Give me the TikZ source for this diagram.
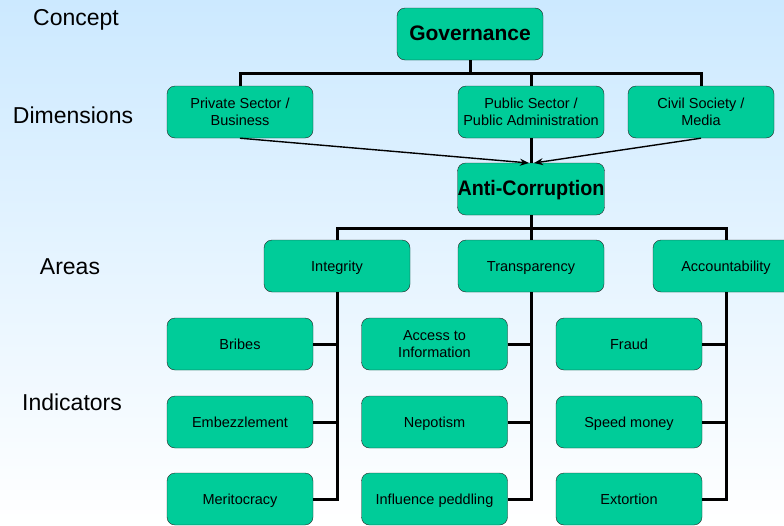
\documentclass[tikz,border=0pt]{standalone}
\usepackage{fontspec}
\setmainfont{Liberation Sans}
\usetikzlibrary{arrows.meta}
\definecolor{boxgreen}{RGB}{0,204,153}
\definecolor{bgblue}{RGB}{204,233,255}
\tikzset{
	box/.style={draw=black!85, fill=boxgreen, rounded corners=8pt, minimum width=146pt, minimum height=52pt, inner sep=0pt, align=center, font=\fontsize{14.5}{17}\selectfont},
	onebox/.style={box, text height=13pt, text depth=3pt},
	bigbox/.style={box, text height=16pt, text depth=3pt, font=\fontsize{21}{24}\selectfont\bfseries},
	levellabel/.style={font=\fontsize{23}{26}\selectfont},
	bus/.style={line width=3pt},
	link/.style={line width=1.4pt, -{Stealth[length=9pt,width=7pt]}}
}
\begin{document}
\begin{tikzpicture}[x=1pt,y=-1pt]
			\shade[top color=bgblue, bottom color=white] (0,0) rectangle (784,525);
			\useasboundingbox (0,0) rectangle (784,525);
			\clip (0,0) rectangle (784,525);

			\node[levellabel] (concept) at (76,20) {Concept};
			\node[levellabel] (dims) at (73,115) {Dimensions};
			\node[levellabel] (areas) at (70,267) {Areas};
			\node[levellabel] (indic) at (72,402) {Indicators};

			\node[bigbox] (gov) at (470,34) {Governance};
			\node[box] (priv) at (240,112) {Private Sector /\\Business};
			\node[box] (pub) at (531,112) {Public Sector /\\Public Administration};
			\node[box] (civ) at (701,112) {Civil Society /\\Media};
			\node[bigbox] (anti) at (531,189) {\scalebox{0.94}[1]{Anti-Corruption}};

			\node[onebox] (integ) at (337,266) {Integrity};
			\node[onebox] (transp) at (531,266) {Transparency};
			\node[onebox] (account) at (726,266) {Accountability};

			\node[onebox] (bribes) at (240,344) {Bribes};
			\node[onebox] (embez) at (240,422) {Embezzlement};
			\node[onebox] (merit) at (240,499) {Meritocracy};
			\node[box] (access) at (434.5,344) {Access to\\Information};
			\node[onebox] (nepot) at (434.5,422) {Nepotism};
			\node[onebox] (infl) at (434.5,499) {Influence peddling};
			\node[onebox] (fraud) at (629,344) {Fraud};
			\node[onebox] (speed) at (629,422) {Speed money};
			\node[onebox] (extort) at (629,499) {Extortion};

			\coordinate (busA) at (470,73);
			\coordinate (busB) at (531,228);
			\coordinate (tipL) at (529,163);
			\coordinate (tipR) at (534,163);

			\draw[bus] (gov) -- (busA);
			\draw[bus] (priv.north) |- (busA) -| (civ.north);
			\draw[bus] (pub.north) -- (pub.north |- busA);
			\draw[bus] (pub) -- (anti);
			\path [link] (priv.south) edge (tipL);
			\path [link] (civ.south) edge (tipR);

			\draw[bus] (anti) -- (busB);
			\draw[bus] (integ.north) |- (busB) -| (account.north);
			\draw[bus] (transp.north) -- (transp.north |- busB);

			\draw[bus] (integ.south) |- (merit.east);
			\draw[bus] (transp.south) |- (infl.east);
			\draw[bus] (account.south) |- (extort.east);
			\draw[bus] (bribes.east) -- (bribes.east -| integ.south);
			\draw[bus] (embez.east) -- (embez.east -| integ.south);
			\draw[bus] (access.east) -- (access.east -| transp.south);
			\draw[bus] (nepot.east) -- (nepot.east -| transp.south);
			\draw[bus] (fraud.east) -- (fraud.east -| account.south);
			\draw[bus] (speed.east) -- (speed.east -| account.south);
		\end{tikzpicture}
\end{document}
